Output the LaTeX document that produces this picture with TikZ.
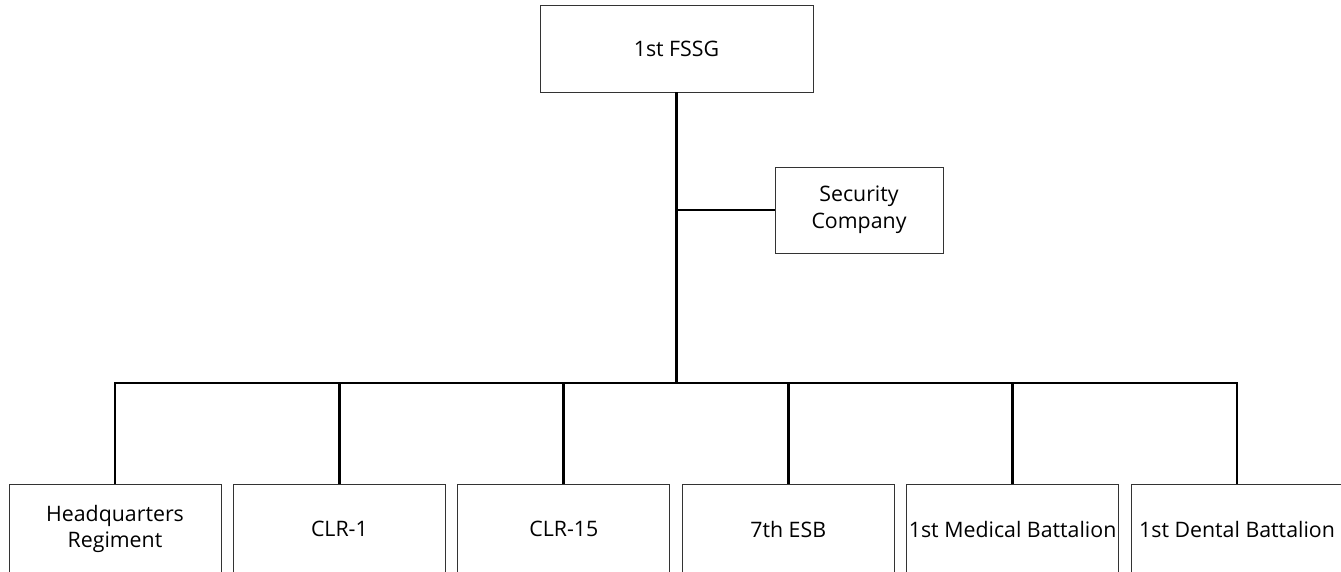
\documentclass[tikz,border=0pt]{standalone}
\usepackage{fontspec}
\setmainfont{Open Sans}
\usetikzlibrary{positioning}

\begin{document}
\begin{tikzpicture}[
    x=0.75pt, y=-0.75pt,
    node distance=8.7pt,
    unit/.style={draw=black!80, line width=0.6pt, minimum width=159pt, minimum height=67.5pt,
                 align=center, inner sep=0pt, font=\fontsize{16}{20}\selectfont},
    link/.style={line width=2pt}
]
\clip (0,0) rectangle (1341,571);
\node[unit, minimum width=204.75pt, minimum height=65.25pt] (fssg) at (676.5,48.5) {1st FSSG};
\node[unit, minimum width=126pt, minimum height=64.5pt] (sec) at (859,210) {Security\\Company};
\node[unit] (hq) at (115,529) {Headquarters\\Regiment};
\node[unit, right=of hq] (clr1) {CLR-1};
\node[unit, right=of clr1] (clr15) {CLR-15};
\node[unit, right=of clr15] (esb) {7th ESB};
\node[unit, right=of esb] (med) {1st Medical Battalion};
\node[unit, right=of med] (dent) {1st Dental Battalion};

\coordinate (bus) at (676.5,383);
\draw[link] (fssg) -- (bus);
\draw[link] (fssg.south |- sec.west) -- (sec);
\draw[link] (hq.north) -- (hq.north |- bus) -- (dent.north |- bus) -- (dent.north);
\foreach \u in {clr1,clr15,esb,med}
    \draw[link] (\u.north |- bus) -- (\u);
\end{tikzpicture}
\end{document}
